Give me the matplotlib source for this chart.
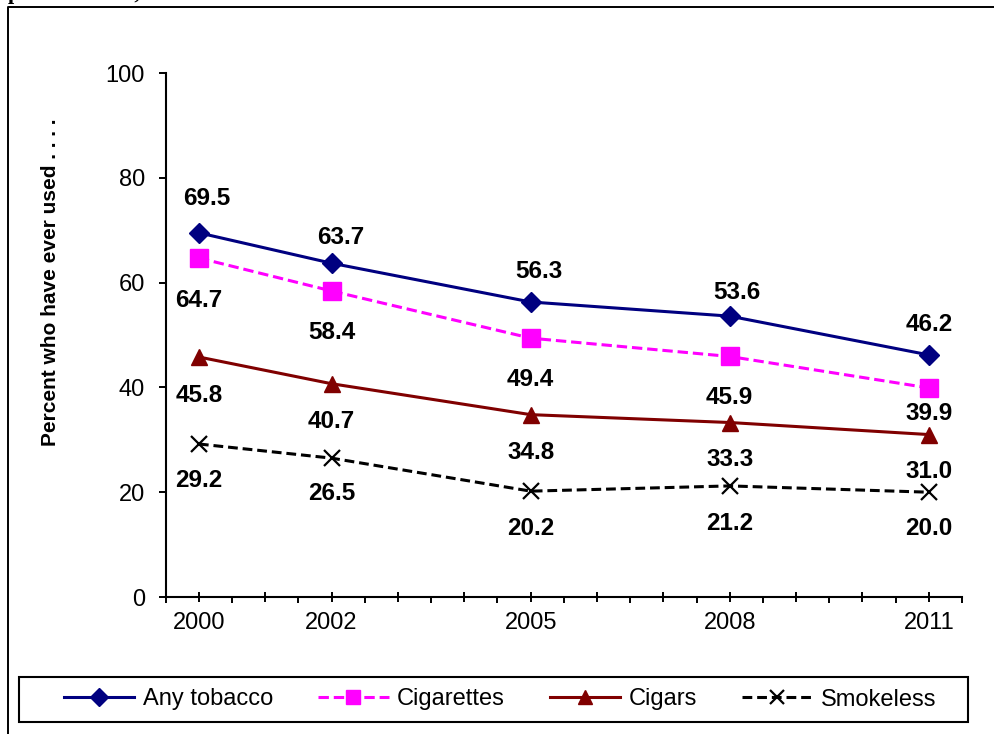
import matplotlib
matplotlib.use("Agg")
import matplotlib.pyplot as plt
from matplotlib.lines import Line2D
from matplotlib.patches import Rectangle
from matplotlib.ticker import FixedLocator, FuncFormatter

plt.rcParams['font.family'] = ['Liberation Sans', 'DejaVu Sans']

# ---- data ----
years = [2000, 2002, 2005, 2008, 2011]
any_tobacco = [69.5, 63.7, 56.3, 53.6, 46.2]
cigarettes = [64.7, 58.4, 49.4, 45.9, 39.9]
cigars = [45.8, 40.7, 34.8, 33.3, 31.0]
smokeless = [29.2, 26.5, 20.2, 21.2, 20.0]
series_names = ["Any tobacco", "Cigarettes", "Cigars", "Smokeless"]
y_ticks = [0, 20, 40, 60, 80, 100]

W, H, DPI = 995, 734, 100
fig = plt.figure(figsize=(W / DPI, H / DPI), dpi=DPI)


def fx(px):
    return px / W


def fy(py):
    return 1 - py / H


# outer frame (left and top edges)
fig.add_artist(Line2D([fx(8), fx(8), fx(W + 5)], [fy(H + 5), fy(7), fy(7)],
                      transform=fig.transFigure, color='black', lw=1.4))
# heading line above the frame, mostly outside the page
fig.text(fx(8), fy(-1), "percent users,", family='Liberation Serif',
         fontweight='bold', fontsize=16, ha='left', va='baseline')

ax = fig.add_axes([fx(165.7), fy(597), fx(962) - fx(165.7), fy(73) - fy(597)])
ax.set_xlim(1999.5, 2011.5)
ax.set_ylim(0, 100)
for s in ('top', 'right'):
    ax.spines[s].set_visible(False)
for s in ('left', 'bottom'):
    ax.spines[s].set_linewidth(1.5)
    ax.spines[s].set_color('black')

# x axis: major ticks every year crossing the axis, minor ticks at half years
all_years = list(range(2000, 2012))
ax.xaxis.set_major_locator(FixedLocator(all_years))
ax.xaxis.set_minor_locator(FixedLocator([y + 0.5 for y in range(1999, 2012)]))
ax.xaxis.set_major_formatter(FuncFormatter(lambda v, p: str(int(round(v))) if int(round(v)) in years else ""))
ax.tick_params(axis='x', which='major', direction='inout', length=7.2, width=1.4,
               labelsize=17, pad=7)
ax.tick_params(axis='x', which='minor', direction='out', length=4.3, width=1.4)

ax.set_yticks(y_ticks)
ax.tick_params(axis='y', which='major', direction='out', length=5, width=1.4,
               labelsize=17, pad=10)

fig.text(fx(51), fy(282.5), "Percent who have ever used . . . .", rotation=90,
         fontsize=15, fontweight='bold', ha='center', va='center')

lw = 2.2
styles = [
    dict(color='#000080', marker='D', ms=10.5, ls='-'),
    dict(color='#FF00FF', marker='s', ms=12.5, ls=(0, (3.4, 1.6))),
    dict(color='#800000', marker='^', ms=12, ls='-'),
    dict(color='black', marker='x', ms=12, mew=1.6, ls=(0, (3.2, 1.6))),
]
all_series = [any_tobacco, cigarettes, cigars, smokeless]
handles = []
for vals, name, st in zip(all_series, series_names, styles):
    st = dict(st)
    ls = st.pop('ls')
    h, = ax.plot(years, vals, linestyle=ls, lw=lw, label=name, **st)
    handles.append(h)

# label offsets in pixels (dx, dy down positive) relative to each marker
label_offsets = [
    [(8, -37), (9, -28), (8, -33), (7, -26), (0, -33)],
    [(0, 40), (0, 39), (0, 39.5), (0, 39), (0, 23.5)],
    [(0, 36), (0, 35.5), (0, 35.5), (0, 34.5), (0, 34.5)],
    [(0, 34.5), (0, 33), (0, 35), (0, 35), (0, 34.5)],
]
label_size = 17.5
half_cap = label_size / 72 * DPI * 0.716 / 2
for vals, offs in zip(all_series, label_offsets):
    for x, v, (dx, dy) in zip(years, vals, offs):
        ax.annotate(f"{v:.1f}", (x, v), xytext=(dx, -(dy + half_cap)),
                    textcoords='offset pixels', ha='center', va='baseline',
                    fontsize=label_size, fontweight='bold', color='black',
                    annotation_clip=False)

# legend box and entries
fig.add_artist(Rectangle((fx(19), fy(722)), fx(968) - fx(19), fy(677) - fy(722),
                         transform=fig.transFigure, fill=False, lw=1.5,
                         edgecolor='black'))
fig.legend(handles=handles, loc='center', bbox_to_anchor=(fx(500), fy(699.5)),
           ncol=4, frameon=False, fontsize=17, handlelength=3.0,
           handletextpad=0.35, columnspacing=1.9, borderpad=0, borderaxespad=0,
           markerscale=0.85)

fig.savefig("out.png", dpi=DPI)
